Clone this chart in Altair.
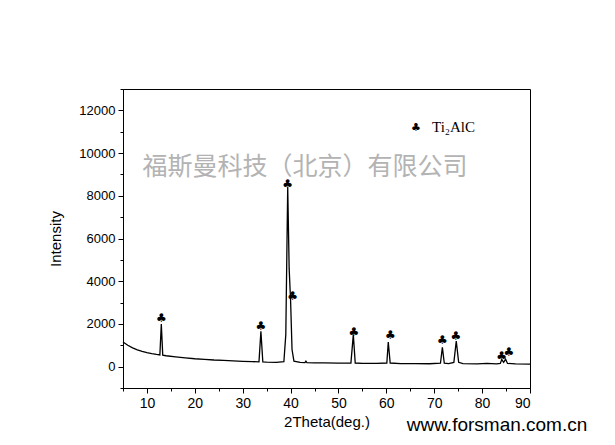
import altair as alt
import pandas as pd

# XRD pattern
two_theta = [5, 6, 7, 8, 9, 10, 11, 12, 12.7, 13.0, 13.3, 14, 16, 18, 20, 22, 24, 26, 28, 30,
             32, 33.4, 33.8, 34.2, 35, 37, 38.6, 39.0, 39.4, 39.7, 40.0, 40.3, 40.7, 42, 43, 43.2,
             43.4, 45, 47, 50, 52.6, 53.1, 53.5, 55, 58, 60.1, 60.4, 60.8, 63, 66, 69, 71.3,
             71.7, 72.1, 73, 74.1, 74.6, 75.1, 76, 79, 81, 83, 83.8, 84.1, 84.5, 84.9, 85.3,
             87, 90]
intensity = [1150, 1000, 880, 790, 720, 660, 610, 570, 550, 2000, 540, 510, 460, 410, 370, 340, 310, 290, 270, 250,
             235, 225, 1650, 225, 215, 200, 230, 1500, 8400, 4600, 3100, 800, 260, 200, 190, 260,
             190, 180, 175, 165, 170, 1500, 170, 155, 150, 170, 1150, 170, 145, 140, 135, 160,
             900, 160, 140, 200, 1200, 200, 140, 130, 150, 130, 150, 330, 200, 350, 150,
             130, 120]

# Peak markers (club symbols)
club_x = [13.0, 33.8, 39.4, 40.45, 53.2, 60.85, 71.7, 74.5, 84.1, 85.6]
club_y = [2300, 1920, 8570, 3330, 1640, 1500, 1265, 1450, 515, 700]

x_major = [10, 20, 30, 40, 50, 60, 70, 80, 90]
x_minor = [5, 15, 25, 35, 45, 55, 65, 75, 85]
y_major = [0, 2000, 4000, 6000, 8000, 10000, 12000]
y_minor = [-1000, 1000, 3000, 5000, 7000, 9000, 11000, 13000]

legend_label = "Ti\u2082AlC"
watermark = "福斯曼科技（北京）有限公司"
url_text = "www.forsman.com.cn"

df = pd.DataFrame({"x": two_theta, "y": intensity})
clubs = pd.DataFrame({"x": club_x, "y": club_y, "t": ["♣"] * len(club_x)})

xscale = alt.Scale(domain=[5, 90], nice=False, zero=False)
yscale = alt.Scale(domain=[-1000, 13000], nice=False, zero=False)

common = dict(grid=False, domainColor="black", tickColor="black", labelColor="black",
              titleColor="black", labelFont="Liberation Sans", titleFont="Liberation Sans",
              titleFontWeight="normal")

xaxis = alt.Axis(title="2Theta(deg.)", values=x_major, tickSize=5, labelFontSize=14,
                 titleFontSize=15, labelPadding=3, titlePadding=4, orient="bottom", **common)
yaxis = alt.Axis(title="Intensity", values=y_major, format="d", tickSize=5, labelFontSize=13,
                 titleFontSize=15, labelPadding=3, titlePadding=15, orient="left", **common)
xaxis_minor = alt.Axis(title=None, values=x_minor, tickSize=3, labels=False, domain=False,
                       orient="bottom", grid=False, tickColor="black")
yaxis_minor = alt.Axis(title=None, values=y_minor, tickSize=3, labels=False, domain=False,
                       orient="left", grid=False, tickColor="black")

line = alt.Chart(df).mark_line(color="black", strokeWidth=1.3).encode(
    x=alt.X("x:Q", scale=xscale, axis=xaxis),
    y=alt.Y("y:Q", scale=yscale, axis=yaxis),
)

club_marks = alt.Chart(clubs).mark_text(
    font="DejaVu Sans", fontSize=12, color="black", baseline="middle"
).encode(
    x=alt.X("x:Q", scale=xscale, axis=xaxis_minor),
    y=alt.Y("y:Q", scale=yscale, axis=yaxis_minor),
    text="t:N",
)

legend_sym = alt.Chart(pd.DataFrame({"t": ["♣"]})).mark_text(
    font="DejaVu Sans", fontSize=11, color="black", baseline="middle"
).encode(x=alt.value(293), y=alt.value(39), text="t:N")

legend_txt = alt.Chart(pd.DataFrame({"t": [legend_label]})).mark_text(
    font="Liberation Serif", fontSize=15, color="black", baseline="middle", align="left"
).encode(x=alt.value(309), y=alt.value(38), text="t:N")

wm = alt.Chart(pd.DataFrame({"t": [watermark]})).mark_text(
    font="Noto Sans CJK SC", fontSize=25, color="#b3b3b3", baseline="middle", align="center"
).encode(x=alt.value(182), y=alt.value(78), text="t:N")

url = alt.Chart(pd.DataFrame({"t": [url_text]})).mark_text(
    font="Liberation Sans", fontSize=19, color="black", baseline="middle", align="center"
).encode(x=alt.value(374), y=alt.value(336), text="t:N")

chart = alt.layer(wm, line, club_marks, legend_sym, legend_txt, url).resolve_axis(
    x="independent", y="independent"
).properties(
    width=407, height=299,
    autosize=alt.AutoSizeParams(type="none"),
    padding={"left": 115, "top": 81, "right": 77, "bottom": 55},
    background="white",
).configure_view(stroke="black", strokeWidth=1)

chart.save("out.html", embed_options={"renderer": "svg", "actions": False})
